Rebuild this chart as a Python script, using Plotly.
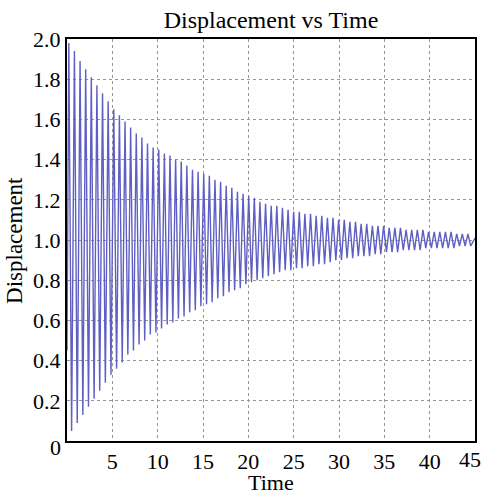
import plotly.graph_objects as go

# Start / end of the trace
start_time = [0.0]
start_value = [0.45]
end_time = [45.0]
end_value = [1.01]

# Upper extremes
peak_times = [0.20, 0.82, 1.44, 2.06, 2.68, 3.30, 3.92, 4.54, 5.16, 5.78, 6.40, 7.02,
              7.64, 8.26, 8.88, 9.50, 10.12, 10.74, 11.36, 11.98, 12.60, 13.22, 13.84,
              14.46, 15.08, 15.70, 16.32, 16.94, 17.56, 18.18, 18.80, 19.42, 20.04,
              20.66, 21.28, 21.90, 22.52, 23.14, 23.76, 24.38, 25.00, 25.62, 26.24,
              26.86, 27.48, 28.10, 28.72, 29.34, 29.96, 30.58, 31.20, 31.82, 32.44,
              33.06, 33.68, 34.30, 34.92, 35.54, 36.16, 36.78, 37.40, 38.02, 38.64,
              39.26, 39.88, 40.50, 41.12, 41.74, 42.36, 42.98, 43.60, 44.22]
peak_values = [1.98, 1.94, 1.89, 1.85, 1.81, 1.77, 1.73, 1.69, 1.65, 1.62, 1.59, 1.56,
               1.53, 1.51, 1.48, 1.46, 1.45, 1.43, 1.42, 1.40, 1.39, 1.37, 1.35,
               1.34, 1.33, 1.32, 1.30, 1.29, 1.27, 1.26, 1.24, 1.23, 1.22,
               1.21, 1.19, 1.18, 1.17, 1.17, 1.16, 1.15, 1.14, 1.14, 1.13,
               1.13, 1.12, 1.12, 1.11, 1.11, 1.10, 1.10, 1.09, 1.09, 1.08,
               1.08, 1.07, 1.07, 1.07, 1.06, 1.06, 1.06, 1.05, 1.05, 1.05,
               1.05, 1.04, 1.04, 1.04, 1.04, 1.04, 1.03, 1.03, 1.03]

# Lower extremes
trough_times = [0.51, 1.13, 1.75, 2.37, 2.99, 3.61, 4.23, 4.85, 5.47, 6.09, 6.71, 7.33,
                7.95, 8.57, 9.19, 9.81, 10.43, 11.05, 11.67, 12.29, 12.91, 13.53, 14.15,
                14.77, 15.39, 16.01, 16.63, 17.25, 17.87, 18.49, 19.11, 19.73, 20.35,
                20.97, 21.59, 22.21, 22.83, 23.45, 24.07, 24.69, 25.31, 25.93, 26.55,
                27.17, 27.79, 28.41, 29.03, 29.65, 30.27, 30.89, 31.51, 32.13, 32.75,
                33.37, 33.99, 34.61, 35.23, 35.85, 36.47, 37.09, 37.71, 38.33, 38.95,
                39.57, 40.19, 40.81, 41.43, 42.05, 42.67, 43.29, 43.91, 44.53]
trough_values = [0.05, 0.09, 0.13, 0.17, 0.21, 0.25, 0.29, 0.33, 0.36, 0.39, 0.43, 0.45,
                 0.48, 0.50, 0.53, 0.54, 0.56, 0.58, 0.59, 0.61, 0.62, 0.64, 0.65,
                 0.67, 0.68, 0.69, 0.71, 0.72, 0.74, 0.75, 0.76, 0.78, 0.79,
                 0.80, 0.81, 0.82, 0.83, 0.84, 0.85, 0.85, 0.86, 0.86, 0.87,
                 0.87, 0.88, 0.88, 0.89, 0.90, 0.90, 0.91, 0.91, 0.92, 0.92,
                 0.92, 0.93, 0.93, 0.94, 0.94, 0.94, 0.95, 0.95, 0.95, 0.95,
                 0.96, 0.96, 0.96, 0.96, 0.96, 0.96, 0.97, 0.97, 0.97]

# Tick labels; "45" (right edge) and "0" (origin) are drawn as separate texts
x_tick_vals = [5, 10, 15, 20, 25, 30, 35, 40, 45]
x_tick_text = ["5", "10", "15", "20", "25", "30", "35", "40", ""]
x_edge_label = "45"
y_tick_vals = [0, 0.2, 0.4, 0.6, 0.8, 1.0, 1.2, 1.4, 1.6, 1.8, 2.0]
y_tick_text = ["", "0.2", "0.4", "0.6", "0.8", "1.0", "1.2", "1.4", "1.6", "1.8", "2.0"]
y_origin_label = "0"

# Interleave into one trace
t = list(start_time)
y = list(start_value)
for pt, pv, tt, tv in zip(peak_times, peak_values, trough_times, trough_values):
    t += [pt, tt]
    y += [pv, tv]
t += end_time
y += end_value

FONT = "Liberation Serif, Times New Roman, serif"
TICK = 22

fig = go.Figure()
fig.add_trace(go.Scatter(x=t, y=y, mode="lines",
                         line=dict(color="rgb(95,95,195)", width=1.4),
                         showlegend=False, hoverinfo="skip"))

fig.update_layout(
    width=484, height=497,
    margin=dict(l=67, r=9, t=39, b=56, autoexpand=False),
    paper_bgcolor="white", plot_bgcolor="white",
    font=dict(family=FONT, size=TICK, color="black"),
    title=dict(text="Displacement vs Time", x=0.5, xref="paper", xanchor="center",
               y=0.96, yanchor="middle", font=dict(family=FONT, size=24, color="black")),
    xaxis=dict(range=[0, 45], tickvals=x_tick_vals, ticktext=x_tick_text,
               showline=True, linecolor="black", linewidth=2, mirror=True,
               showgrid=True, gridcolor="rgb(150,150,150)", griddash="3px,3px", gridwidth=1,
               zeroline=False, ticks="", automargin=False,
               tickfont=dict(family=FONT, size=TICK)),
    yaxis=dict(range=[0, 2], tickvals=y_tick_vals, ticktext=y_tick_text,
               showline=True, linecolor="black", linewidth=2, mirror=True,
               showgrid=True, gridcolor="rgb(150,150,150)", griddash="3px,3px", gridwidth=1,
               zeroline=False, ticks="", automargin=False, ticklabeloverflow="allow",
               tickfont=dict(family=FONT, size=TICK)),
    annotations=[
        dict(text=x_edge_label, xref="paper", yref="paper", x=1.0, y=-0.047,
             xanchor="right", yanchor="middle", xshift=8, showarrow=False,
             font=dict(family=FONT, size=TICK, color="black")),
        dict(text=y_origin_label, xref="paper", yref="paper", x=0.0, y=-0.017,
             xanchor="right", yanchor="middle", xshift=-4, showarrow=False,
             font=dict(family=FONT, size=TICK, color="black")),
        dict(text="Displacement", textangle=-90, xref="paper", yref="paper",
             x=-0.13, y=0.5, xanchor="center", yanchor="middle", showarrow=False,
             font=dict(family=FONT, size=23, color="black")),
        dict(text="Time", xref="paper", yref="paper",
             x=0.5, y=-0.104, xanchor="center", yanchor="middle", showarrow=False,
             font=dict(family=FONT, size=22, color="black")),
    ],
)

fig.write_html("out.html", config={"displayModeBar": False},
               post_script="document.body.style.margin='0px';")
